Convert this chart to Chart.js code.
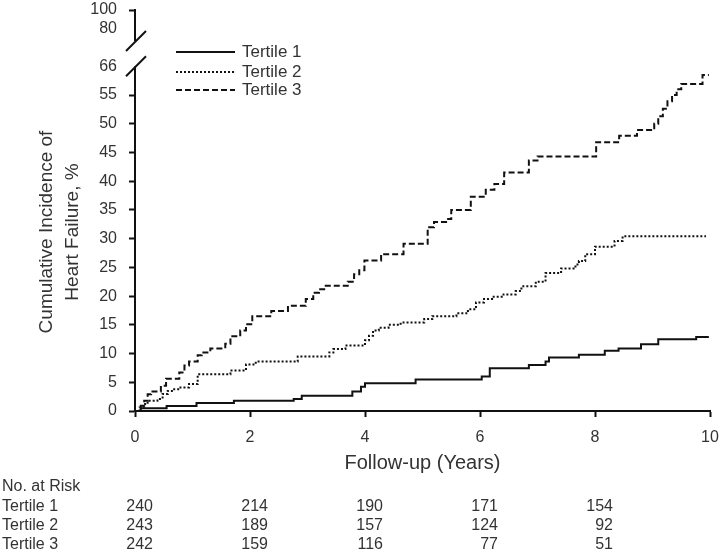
<!DOCTYPE html>
<html>
<head>
  <meta charset="UTF-8">
  <title>Cumulative Incidence of Heart Failure</title>
  <script src="https://cdn.jsdelivr.net/npm/chart.js"></script>
  <style>
    body {
      margin: 0;
      background: #fff;
    }
    #chart {
      display: block;
    }
  </style>
</head>
<body>
<canvas id="chart" width="720" height="554"></canvas>

<script>
  // Step curves: time (years) -> cumulative incidence (%)
  const tertile1Years = [0, 0.1, 0.55, 1.07, 1.72, 2.76, 2.9, 3.78, 3.93, 4.0, 4.88, 6.03, 6.17, 6.85, 7.14, 7.2, 7.72, 8.17, 8.41, 8.8, 9.1, 9.76, 9.98];
  const tertile1Pct   = [0, 0.5, 0.85, 1.4, 1.8, 2.1, 2.65, 3.4, 4.2, 4.85, 5.5, 6.0, 7.45, 8.0, 8.6, 9.3, 9.8, 10.5, 10.9, 11.6, 12.5, 12.9, 12.9];

  const tertile2Years = [0, 0.08, 0.15, 0.22, 0.39, 0.48, 0.57, 0.66, 0.77, 0.94, 1.09, 1.66, 1.93, 2.1, 2.83, 3.38, 3.45, 3.66, 4.0, 4.07, 4.14, 4.24, 4.41, 4.62, 5.03, 5.17, 5.59, 5.79, 5.93, 6.07, 6.21, 6.41, 6.62, 6.72, 6.97, 7.14, 7.41, 7.66, 7.72, 7.83, 8.0, 8.34, 8.48, 9.93];
  const tertile2Pct   = [0, 0.6, 1.2, 1.8, 2.1, 2.95, 3.5, 3.8, 4.1, 4.7, 6.4, 7.05, 8.1, 8.6, 9.5, 10.2, 10.8, 11.4, 12.3, 13.1, 14.0, 14.5, 15.0, 15.4, 16.0, 16.5, 17.0, 17.7, 18.9, 19.5, 19.9, 20.3, 20.9, 21.7, 22.5, 24.0, 24.8, 25.5, 26.1, 27.3, 28.6, 29.6, 30.4, 30.4];

  const tertile3Years = [0, 0.1, 0.16, 0.22, 0.28, 0.45, 0.54, 0.77, 0.86, 0.94, 1.09, 1.16, 1.31, 1.57, 1.66, 1.83, 1.93, 2.04, 2.37, 2.66, 2.97, 3.1, 3.2, 3.29, 3.7, 3.81, 3.9, 3.99, 4.28, 4.67, 5.09, 5.2, 5.41, 5.5, 5.84, 6.1, 6.25, 6.42, 6.85, 7.0, 8.02, 8.42, 8.73, 9.03, 9.1, 9.18, 9.26, 9.34, 9.42, 9.5, 9.87, 9.98];
  const tertile3Pct   = [0, 0.9, 1.8, 2.9, 3.4, 4.4, 5.6, 6.7, 7.9, 8.6, 9.7, 10.2, 10.9, 11.7, 13.0, 14.0, 15.1, 16.5, 17.4, 18.3, 19.5, 20.6, 21.2, 21.8, 22.5, 23.8, 24.5, 26.2, 27.3, 29.1, 32.0, 32.9, 33.4, 35.0, 37.3, 38.5, 39.5, 41.5, 43.6, 44.3, 46.8, 47.9, 48.9, 50.0, 51.3, 52.6, 53.9, 55.0, 56.0, 56.9, 58.5, 58.5];

  const seriesLabels = ['Tertile 1', 'Tertile 2', 'Tertile 3'];

  // Axis ticks
  const xTicks = [0, 2, 4, 6, 8, 10];
  const yTicks = [0, 5, 10, 15, 20, 25, 30, 35, 40, 45, 50, 55];
  const yBrokenLabels = ['66', '80', '100'];

  // Number at risk table
  const riskYears = [0, 2, 4, 6, 8];
  const riskTertile1 = [240, 214, 190, 171, 154];
  const riskTertile2 = [243, 189, 157, 124, 92];
  const riskTertile3 = [242, 159, 116, 77, 51];

  // where the broken part of the y axis sits on the linear scale
  const Y_TOP = 69.8;
  const brokenPositions = [60, 66.5, Y_TOP];
  const BREAK_LOW = 60, BREAK_HIGH = 64.4;

  const FONT = '"Liberation Sans", Arial, sans-serif';
  const TEXT = '#333';
  const INK = '#111';

  function toPoints(xs, ys) {
    return xs.map((t, i) => ({ x: t, y: ys[i] }));
  }

  const lineStyles = [[], [2, 2], [6, 3]];

  const datasets = [
    toPoints(tertile1Years, tertile1Pct),
    toPoints(tertile2Years, tertile2Pct),
    toPoints(tertile3Years, tertile3Pct)
  ].map((pts, i) => ({
    label: seriesLabels[i],
    data: pts,
    borderColor: INK,
    borderWidth: 2,
    borderDash: lineStyles[i],
    stepped: 'before',
    pointRadius: 0,
    fill: false
  }));

  // axis break, legend, titles and risk table
  const extras = {
    id: 'extras',
    afterDraw(chart) {
      const ctx = chart.ctx;
      const x = chart.scales.x;
      const y = chart.scales.y;
      const ax = chart.chartArea.left;

      ctx.save();
      // break in the y axis
      const lo = y.getPixelForValue(BREAK_LOW);
      const hi = y.getPixelForValue(BREAK_HIGH);
      ctx.fillStyle = '#fff';
      ctx.fillRect(ax - 3, hi, 6, lo - hi);
      ctx.strokeStyle = INK;
      ctx.lineWidth = 2;
      ctx.setLineDash([]);
      [lo, hi].forEach(c => {
        ctx.beginPath();
        ctx.moveTo(ax - 9, c + 10);
        ctx.lineTo(ax + 11, c - 10);
        ctx.stroke();
      });

      // legend
      ctx.font = '17px ' + FONT;
      ctx.textBaseline = 'middle';
      ctx.textAlign = 'left';
      const legendY = [52, 72, 90];
      chart.data.datasets.forEach((ds, i) => {
        ctx.strokeStyle = INK;
        ctx.lineWidth = 2;
        ctx.setLineDash(ds.borderDash);
        ctx.beginPath();
        ctx.moveTo(176, legendY[i]);
        ctx.lineTo(235, legendY[i]);
        ctx.stroke();
        ctx.fillStyle = TEXT;
        ctx.fillText(ds.label, 242, legendY[i]);
      });
      ctx.setLineDash([]);

      // y title
      ctx.fillStyle = TEXT;
      ctx.font = '19px ' + FONT;
      ctx.textAlign = 'center';
      ctx.save();
      ctx.translate(47, 232);
      ctx.rotate(-Math.PI / 2);
      ctx.fillText('Cumulative Incidence of', 0, 0);
      ctx.fillText('Heart Failure, %', 0, 26);
      ctx.restore();

      // x title
      ctx.font = '20px ' + FONT;
      ctx.fillText('Follow-up (Years)', (x.left + x.right) / 2, 463);

      // number at risk
      ctx.font = '16px ' + FONT;
      ctx.textAlign = 'left';
      ctx.fillText('No. at Risk', 2, 487);
      const rows = [riskTertile1, riskTertile2, riskTertile3];
      const rowY = [507, 526, 545];
      rows.forEach((row, r) => {
        ctx.textAlign = 'left';
        ctx.fillText(seriesLabels[r], 2, rowY[r]);
        ctx.textAlign = 'right';
        row.forEach((n, k) => {
          ctx.fillText(String(n), x.getPixelForValue(riskYears[k]) + 18, rowY[r]);
        });
      });
      ctx.restore();
    }
  };

  const tickFont = { family: FONT, size: 16 };

  new Chart(document.getElementById('chart'), {
    type: 'line',
    data: { datasets },
    options: {
      responsive: false,
      animation: false,
      layout: { padding: 0 },
      plugins: {
        legend: { display: false },
        tooltip: { enabled: false }
      },
      scales: {
        x: {
          type: 'linear',
          min: 0,
          max: 10,
          afterBuildTicks: s => { s.ticks = xTicks.map(v => ({ value: v })); },
          afterFit: s => {
            s.height = 143;
            s.paddingLeft = 0;
            s.paddingRight = 10;
          },
          ticks: { color: TEXT, font: tickFont, padding: 11, maxRotation: 0 },
          grid: { drawOnChartArea: false, tickLength: 6, tickColor: INK, tickWidth: 2 },
          border: { color: INK, width: 2 }
        },
        y: {
          type: 'linear',
          min: 0,
          max: Y_TOP,
          afterBuildTicks: s => {
            s.ticks = yTicks.concat(brokenPositions).map(v => ({ value: v }));
          },
          afterFit: s => {
            s.width = 135;
            s.paddingTop = 10;
            s.paddingBottom = 0;
          },
          ticks: {
            color: TEXT,
            font: tickFont,
            padding: 12,
            autoSkip: false,
            callback: v => {
              const k = brokenPositions.indexOf(v);
              return k >= 0 ? yBrokenLabels[k] : String(v);
            }
          },
          grid: {
            drawOnChartArea: false,
            tickLength: 6,
            tickWidth: 2,
            tickColor: c => (c.tick && (c.tick.value === brokenPositions[0] || c.tick.value === brokenPositions[1])) ? 'rgba(0,0,0,0)' : INK
          },
          border: { color: INK, width: 2 }
        }
      }
    },
    plugins: [extras]
  });
</script>
</body>
</html>
